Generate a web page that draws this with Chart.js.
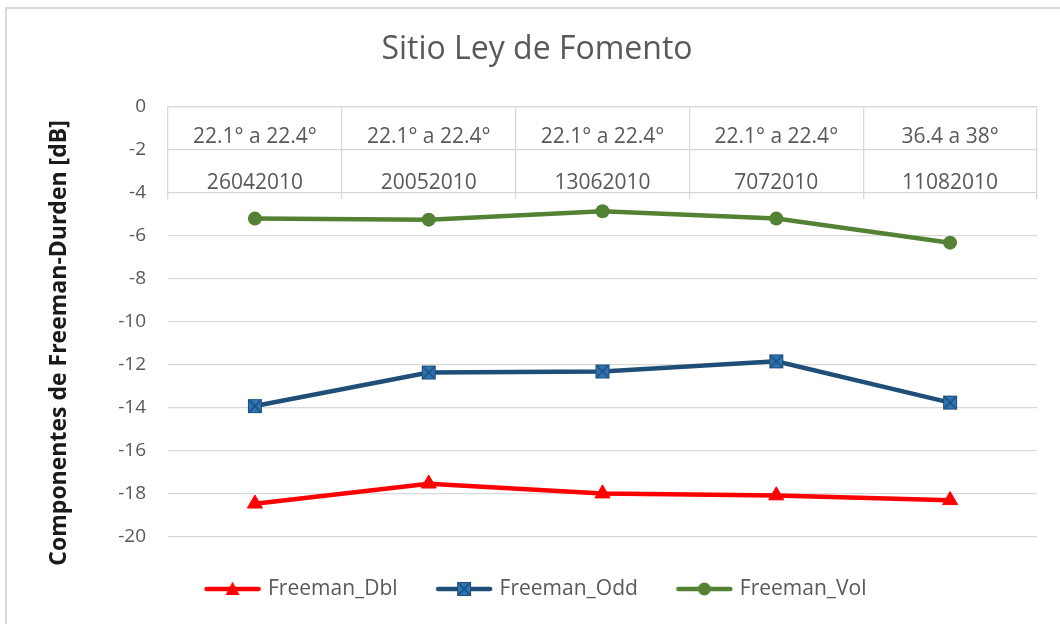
<!DOCTYPE html>
<html>
<head>
<meta charset="utf-8">
<script src="https://cdn.jsdelivr.net/npm/chart.js@4.4.1/dist/chart.umd.min.js"></script>
<style>
  html, body { margin: 0; padding: 0; background: #fff; }
  #frame { position: absolute; left: 5px; top: 7px; width: 1100px; height: 700px;
           border-left: 2px solid #d9d9d9; border-top: 2px solid #d9d9d9; }
  #chart { position: absolute; left: 0; top: 0; }
</style>
</head>
<body>
<div id="frame"></div>
<canvas id="chart" width="1060" height="624"></canvas>
<script>
// data
const angles = ["22.1° a 22.4°", "22.1° a 22.4°", "22.1° a 22.4°", "22.1° a 22.4°", "36.4 a 38°"];
const dates = ["26042010", "20052010", "13062010", "7072010", "11082010"];
const freemanDbl = [-18.45, -17.52, -17.98, -18.07, -18.29];
const freemanOdd = [-13.91, -12.35, -12.3, -11.83, -13.75];
const freemanVol = [-5.19, -5.24, -4.85, -5.19, -6.31];
const yTicks = { min: -20, max: 0, step: 2 };

const gray = "#595959";
const gridColor = "#d9d9d9";
const red = "#ff0000";
const navy = "#1f4e79";
const blue = "#2e75b6";
const green = "#548235";

Chart.defaults.font.family = "'Open Sans', sans-serif";

function oddMarker() {
  const c = document.createElement("canvas");
  c.width = 16;
  c.height = 16;
  const g = c.getContext("2d");
  g.fillStyle = blue;
  g.fillRect(1, 1, 14, 14);
  g.strokeStyle = navy;
  g.lineWidth = 1;
  g.strokeRect(1.5, 1.5, 13, 13);
  g.lineWidth = 1.6;
  g.beginPath();
  g.moveTo(2.5, 2.5); g.lineTo(13.5, 13.5);
  g.moveTo(13.5, 2.5); g.lineTo(2.5, 13.5);
  g.stroke();
  return c;
}
const oddImg = oddMarker();

// legend icon: line segment with the marker in the middle
function legendIcon(color, kind) {
  const c = document.createElement("canvas");
  c.width = 58;
  c.height = 18;
  const g = c.getContext("2d");
  g.strokeStyle = color;
  g.lineWidth = 4.5;
  g.lineCap = "round";
  g.beginPath();
  g.moveTo(3, 9); g.lineTo(55, 9);
  g.stroke();
  g.fillStyle = color;
  if (kind === "triangle") {
    g.beginPath();
    g.moveTo(29, 1.5); g.lineTo(36, 15); g.lineTo(22, 15);
    g.closePath();
    g.fill();
  } else if (kind === "circle") {
    g.beginPath();
    g.arc(29, 9, 6.5, 0, Math.PI * 2);
    g.fill();
  } else {
    g.drawImage(oddImg, 21, 1);
  }
  return c;
}
const icons = [legendIcon(red, "triangle"), legendIcon(navy, "odd"), legendIcon(green, "circle")];

const ctx = document.getElementById("chart").getContext("2d");
new Chart(ctx, {
  type: "line",
  data: {
    labels: angles.map((a, i) => [a, dates[i]]),
    datasets: [
      {
        label: "Freeman_Dbl",
        data: freemanDbl,
        borderColor: red,
        backgroundColor: red,
        borderWidth: 4.5,
        pointStyle: "triangle",
        pointRadius: 8.7,
        pointBorderWidth: 1,
        tension: 0,
      },
      {
        label: "Freeman_Odd",
        data: freemanOdd,
        borderColor: navy,
        backgroundColor: blue,
        borderWidth: 4.5,
        pointStyle: oddImg,
        pointRadius: 8,
        tension: 0,
      },
      {
        label: "Freeman_Vol",
        data: freemanVol,
        borderColor: green,
        backgroundColor: green,
        borderWidth: 4.5,
        pointStyle: "circle",
        pointRadius: 7,
        pointBorderWidth: 0,
        tension: 0,
      },
    ],
  },
  options: {
    responsive: false,
    animation: false,
    layout: { padding: { left: 37, right: 23, top: 0, bottom: 14.5 } },
    plugins: {
      title: {
        display: true,
        text: "Sitio Ley de Fomento",
        color: gray,
        font: { size: 32, weight: "normal" },
        padding: { top: 31, bottom: 37.6 },
      },
      legend: {
        position: "bottom",
        labels: {
          color: gray,
          font: { size: 21 },
          usePointStyle: true,
          pointStyleWidth: 50,
          padding: 41.5,
          generateLabels(chart) {
            const items = Chart.defaults.plugins.legend.labels.generateLabels(chart);
            items.forEach((it, i) => { it.pointStyle = icons[i]; });
            return items;
          },
        },
      },
      tooltip: { enabled: false },
    },
    scales: {
      x: {
        type: "category",
        position: { y: 0 },
        offset: true,
        grid: {
          offset: true,
          drawOnChartArea: false,
          drawTicks: true,
          tickLength: 92,
          color: gridColor,
          lineWidth: 1.3,
        },
        border: { display: true, color: gridColor, width: 1.3 },
        ticks: {
          padding: -85,
          color: gray,
          font: { size: 21, lineHeight: 2.2 },
          maxRotation: 0,
          autoSkip: false,
        },
      },
      y: {
        min: yTicks.min,
        max: yTicks.max,
        ticks: {
          stepSize: yTicks.step,
          padding: 22,
          color: gray,
          font: { size: 19 },
        },
        grid: { color: gridColor, lineWidth: 1.3, drawTicks: false },
        border: { display: false },
        title: {
          display: true,
          // trailing spaces push the title down the axis, as in the original
          text: "Componentes de Freeman-Durden [dB]       ",
          color: "#1a1a1a",
          font: { size: 23, weight: "bold" },
          padding: { top: 9, bottom: 0 },
        },
        afterFit(scale) {
          scale.width = 131;
        },
      },
    },
  },
});
</script>
</body>
</html>
